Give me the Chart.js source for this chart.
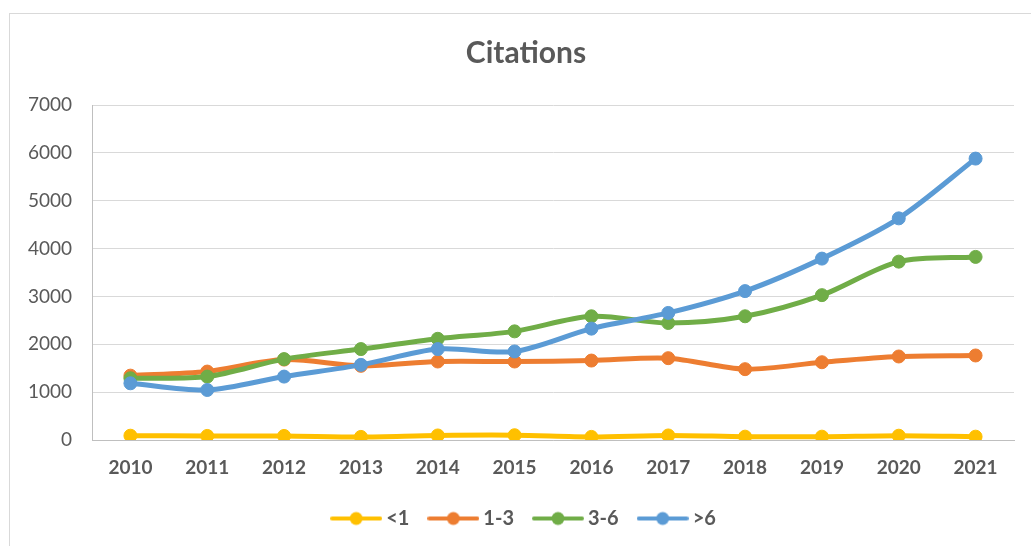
<!DOCTYPE html>
<html>
<head>
<meta charset="utf-8">
<script src="https://cdn.jsdelivr.net/npm/chart.js@4"></script>
<style>
    html, body { margin: 0; padding: 0; background: #fff; overflow: hidden; }
    #frame { position: absolute; left: 9px; top: 13px; width: 1100px; height: 600px; border: 1px solid #d9d9d9; }
    #wrap { position: absolute; left: 0; top: 0; width: 1052px; height: 560px; }
</style>
</head>
<body>
<div id="frame"></div>
<div id="wrap"><canvas id="citeChart"></canvas></div>
<script>
const years = ['2010', '2011', '2012', '2013', '2014', '2015', '2016', '2017', '2018', '2019', '2020', '2021'];
const under1 = [90, 85, 85, 65, 95, 100, 65, 95, 70, 70, 90, 70];
const from1to3 = [1345, 1430, 1680, 1550, 1640, 1640, 1660, 1710, 1480, 1625, 1745, 1766];
const from3to6 = [1290, 1325, 1690, 1900, 2115, 2270, 2585, 2445, 2585, 3027, 3727, 3826];
const over6 = [1185, 1045, 1325, 1570, 1900, 1850, 2327, 2655, 3111, 3790, 4631, 5880];
const seriesNames = ['<1', '1-3', '3-6', '>6'];
const colors = ['#FFC000', '#ED7D31', '#70AD47', '#5B9BD5'];
const yTicks = [0, 1000, 2000, 3000, 4000, 5000, 6000, 7000];

const textColor = '#595959';
const fontFamily = 'Lato, "Open Sans", sans-serif';

// little line-with-dot icon for the legend
function legendIcon(color) {
    const c = document.createElement('canvas');
    c.width = 52;
    c.height = 16;
    const ctx = c.getContext('2d');
    ctx.strokeStyle = color;
    ctx.lineWidth = 4;
    ctx.lineCap = 'round';
    ctx.beginPath();
    ctx.moveTo(2, 8);
    ctx.lineTo(50, 8);
    ctx.stroke();
    ctx.fillStyle = color;
    ctx.beginPath();
    ctx.arc(26, 8, 6.5, 0, Math.PI * 2);
    ctx.fill();
    return c;
}

function makeSeries(label, data, color, order) {
    return {
        label: label,
        data: data,
        borderColor: color,
        backgroundColor: color,
        pointBackgroundColor: color,
        pointBorderColor: color,
        pointRadius: 6.5,
        pointBorderWidth: 1,
        borderWidth: 5,
        tension: 0.3,
        fill: false,
        yAxisID: 'y',
        order: order
    };
}

function drawChart() {
    const ctx = document.getElementById('citeChart').getContext('2d');
    const icons = colors.map(legendIcon);

    new Chart(ctx, {
        type: 'line',
        data: {
            labels: years,
            datasets: [
                makeSeries(seriesNames[0], under1, colors[0], 4),
                makeSeries(seriesNames[1], from1to3, colors[1], 3),
                makeSeries(seriesNames[2], from3to6, colors[2], 2),
                makeSeries(seriesNames[3], over6, colors[3], 1)
            ]
        },
        options: {
            responsive: true,
            maintainAspectRatio: false,
            animation: false,
            layout: {
                padding: { left: 0, right: 0, top: 0, bottom: 21.5 }
            },
            scales: {
                x: {
                    offset: true,
                    grid: { display: false, drawTicks: false },
                    border: { display: true, color: '#bfbfbf', width: 1 },
                    ticks: {
                        color: textColor,
                        padding: 16,
                        font: { family: fontFamily, size: 19, weight: 'bold' }
                    },
                    afterFit: axis => { axis.height = 44.5; }
                },
                y: {
                    min: 0,
                    max: 7000,
                    afterBuildTicks: axis => { axis.ticks = yTicks.map(v => ({ value: v })); },
                    grid: { color: '#d9d9d9', lineWidth: 1, drawTicks: false },
                    border: { display: true, color: '#bfbfbf', width: 1 },
                    ticks: {
                        color: textColor,
                        padding: 20,
                        font: { family: fontFamily, size: 19 },
                        callback: v => String(v)
                    },
                    afterFit: axis => { axis.width = 92; }
                },
                // empty right side space so the title and legend sit where Excel put them
                spacer: {
                    position: 'right',
                    grid: { drawOnChartArea: false, drawTicks: false },
                    border: { display: false },
                    ticks: { display: false },
                    afterFit: axis => { axis.width = 38; }
                }
            },
            plugins: {
                title: {
                    display: true,
                    text: 'Citations',
                    color: textColor,
                    font: { family: fontFamily, size: 30, weight: 'bold' },
                    padding: { top: 35.2, bottom: 33.8 }
                },
                legend: {
                    position: 'bottom',
                    labels: {
                        color: textColor,
                        font: { family: fontFamily, size: 20, weight: 'bold' },
                        usePointStyle: true,
                        pointStyleWidth: 40,
                        padding: 24,
                        generateLabels: chart => chart.data.datasets.map((ds, i) => ({
                            text: ds.label,
                            fontColor: textColor,
                            pointStyle: icons[i],
                            fillStyle: ds.borderColor,
                            strokeStyle: ds.borderColor,
                            lineWidth: 0,
                            hidden: false,
                            datasetIndex: i
                        }))
                    }
                },
                tooltip: { enabled: false }
            }
        }
    });
}

if (document.fonts && document.fonts.load) {
    Promise.all([
        document.fonts.load('19px Lato'),
        document.fonts.load('bold 19px Lato')
    ]).catch(() => {}).finally(drawChart);
} else {
    drawChart();
}
</script>
</body>
</html>
